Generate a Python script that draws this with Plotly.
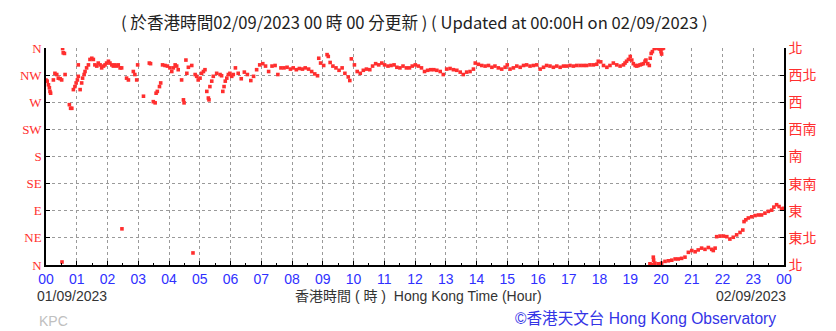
import plotly.graph_objects as go

# ---- data: wind direction (degrees) vs Hong Kong time (hour) ----
hours_early = [0.00, 0.04, 0.08, 0.11, 0.13, 0.15, 0.24, 0.29, 0.35, 0.40, 0.46, 0.51, 0.52, 0.54, 0.56, 0.60, 0.62,
               0.76, 0.80, 0.84, 0.89, 0.94, 0.98, 1.02, 1.05, 1.05, 1.11, 1.16, 1.19, 1.24, 1.27, 1.32, 1.38, 1.43,
               1.49, 1.54, 1.59, 1.65, 1.70, 1.76, 1.81, 1.87, 1.92, 1.97, 2.03, 2.08, 2.14, 2.19, 2.24, 2.30, 2.35,
               2.41, 2.46, 2.47, 2.62, 2.68, 2.84, 2.89, 2.95, 2.98, 3.17, 3.36, 3.40, 3.49, 3.55, 3.58, 3.62, 3.69,
               3.73, 3.79, 3.87, 3.95, 4.03, 4.09, 4.14, 4.20, 4.25, 4.30, 4.41, 4.47, 4.49, 4.55, 4.58, 4.63, 4.74,
               4.78, 4.85, 4.90, 4.95, 5.01, 5.06, 5.12, 5.17, 5.23, 5.28, 5.30, 5.33, 5.39, 5.44, 5.55, 5.66, 5.71,
               5.75, 5.79, 5.83, 5.88, 5.93, 5.98, 6.04, 6.09]
dirs_early = [307, 305, 299, 294, 288, 285, 307, 318, 316, 310, 309, 307, 5, 359, 352, 351, 316,
              266, 260, 260, 291, 296, 302, 307, 313, 332, 291, 302, 310, 316, 321, 327, 332, 341,
              343, 341, 332, 330, 335, 332, 327, 330, 332, 335, 338, 335, 332, 330, 332, 330, 332,
              327, 327, 60, 310, 307, 321, 316, 307, 332, 280, 335, 334, 271, 269, 285, 288, 296,
              302, 332, 331, 330, 327, 321, 327, 332, 330, 324, 307, 274, 269, 340, 318, 328, 331,
              20, 316, 313, 307, 310, 318, 321, 324, 288, 277, 274, 296, 305, 313, 318, 316, 314,
              288, 296, 305, 310, 316, 318, 313, 316]

hours_mid = [6.16, 6.25, 6.35, 6.45, 6.55, 6.66, 6.75, 6.85, 6.95, 7.05, 7.14, 7.24, 7.35, 7.45, 7.54, 7.64, 7.74,
             7.84, 7.95, 8.04, 8.14, 8.24, 8.34, 8.43, 8.54, 8.64, 8.74, 8.83, 8.87, 8.93, 9.03, 9.14, 9.18, 9.24,
             9.33, 9.43, 9.53, 9.63, 9.72, 9.83, 9.88, 9.93, 10.03, 10.12, 10.22, 10.32, 10.42, 10.53, 10.62,
             10.72, 10.82, 10.92, 11.01, 11.12, 11.22, 11.32, 11.41, 11.51, 11.61, 11.72, 11.82, 11.91, 12.01,
             12.11, 12.21, 12.31, 12.41]
dirs_mid = [327, 318, 309, 320, 316, 306, 313, 324, 332, 334, 330, 321, 330, 331, 316, 327, 327,
            328, 325, 327, 324, 326, 325, 327, 325, 321, 317, 314, 343, 335, 331, 349, 346, 336,
            330, 327, 323, 327, 318, 312, 306, 342, 332, 321, 318, 323, 325, 324, 330,
            334, 332, 335, 332, 330, 331, 332, 328, 327, 330, 327, 327, 330, 332,
            330, 327, 321, 323]

hours_late = [12.51, 12.61, 12.71, 12.82, 12.92, 13.03, 13.14, 13.25, 13.36, 13.47, 13.57, 13.68, 13.79, 13.90,
              13.96, 14.06, 14.17, 14.28, 14.39, 14.50, 14.60, 14.71, 14.82, 14.93, 15.00, 15.09, 15.20, 15.31,
              15.42, 15.53, 15.63, 15.74, 15.85, 15.96, 16.07, 16.18, 16.28, 16.39, 16.50, 16.61, 16.72, 16.83,
              16.93, 17.04, 17.15, 17.26, 17.37, 17.48, 17.58, 17.69, 17.80, 17.91, 17.96, 18.04, 18.13, 18.24,
              18.34, 18.45, 18.56, 18.67, 18.78, 18.83, 18.88, 18.94, 19.00, 19.05, 19.10, 19.16, 19.21, 19.26,
              19.32, 19.37, 19.43, 19.48, 19.51, 19.57, 19.62, 19.65, 19.68, 19.72, 19.78, 19.86, 19.91, 19.97,
              20.00, 20.02, 20.05, 20.08]
dirs_late = [324, 324, 323, 321, 316, 325, 326, 324, 323, 320, 316, 320, 321, 325,
             335, 333, 331, 330, 331, 328, 330, 327, 325, 328, 332, 325, 327, 330,
             328, 331, 332, 330, 331, 332, 325, 328, 331, 330, 328, 330, 328, 330,
             330, 331, 330, 331, 331, 331, 331, 332, 332, 333, 338, 337, 331, 328,
             331, 335, 332, 330, 332, 335, 338, 341, 346, 340, 334, 331, 330, 331,
             332, 333, 334, 338, 340, 334, 331, 343, 351, 354, 359, 360, 359, 358,
             354, 350, 359, 360]

hours_ramp = [19.64, 19.70, 19.75, 19.76, 19.80, 19.91, 20.02, 20.13, 20.24, 20.35, 20.46, 20.56, 20.67, 20.78,
              20.89, 21.00, 21.11, 21.21, 21.32, 21.43, 21.54, 21.65, 21.70, 21.76, 21.81, 21.92, 22.03, 22.14,
              22.24, 22.35, 22.46, 22.57, 22.66, 22.70, 22.76, 22.84, 22.95, 23.06, 23.17, 23.27, 23.38, 23.49,
              23.60, 23.67, 23.76, 23.84, 23.92, 23.98]
dirs_ramp = [2, 1, 13, 8, 3, 2, 3, 6, 7, 8, 10, 10, 11, 13,
             21, 24, 22, 25, 28, 26, 29, 26, 24, 28, 47, 48, 48, 47,
             43, 46, 50, 54, 58, 72, 75, 78, 80, 82, 83, 83, 86, 89,
             91, 96, 100, 97, 93, 94]

dir_ticks = [0, 45, 90, 135, 180, 225, 270, 315, 360]
dir_labels_en = ["N", "NE", "E", "SE", "S", "SW", "W", "NW", "N"]
dir_labels_zh = ["北", "東北", "東", "東南", "南", "西南", "西", "西北", "北"]
hour_ticks = list(range(0, 25))
hour_labels = ["00", "01", "02", "03", "04", "05", "06", "07", "08", "09", "10", "11", "12",
               "13", "14", "15", "16", "17", "18", "19", "20", "21", "22", "23", "00"]

RED = "#ff2e2e"
BLUE = "#2f2fff"

fig = go.Figure()
for hx, dy in [(hours_early, dirs_early), (hours_mid, dirs_mid), (hours_late, dirs_late), (hours_ramp, dirs_ramp)]:
    fig.add_trace(go.Scatter(x=hx, y=dy, mode="markers",
                             marker=dict(color=RED, size=3.6, symbol="square"),
                             showlegend=False, hoverinfo="skip"))
# carrier trace for right-hand axis
fig.add_trace(go.Scatter(x=[None], y=[None], yaxis="y2", showlegend=False, hoverinfo="skip"))

grid = dict(showgrid=True, gridcolor="#9a9a9a", griddash="dot", gridwidth=1, zeroline=False)

fig.update_layout(
    width=836, height=331,
    margin=dict(l=46, r=52, t=48, b=66),
    paper_bgcolor="white", plot_bgcolor="white",
    xaxis=dict(range=[0, 24], tickvals=hour_ticks, ticktext=hour_labels, **grid,
               showline=True, linecolor="black", linewidth=1.5, ticks="inside", ticklen=4,
               tickcolor="black", tickfont=dict(family="Liberation Sans", size=14, color=BLUE),
               minor=dict(dtick=0.5, ticks="inside", ticklen=2, tickcolor="black", showgrid=False)),
    yaxis=dict(range=[0, 360], tickvals=dir_ticks, ticktext=dir_labels_en, **grid,
               showline=True, linecolor="black", linewidth=1.5, ticks="inside", ticklen=4,
               tickcolor="black", tickfont=dict(family="Liberation Serif", size=13, color=RED)),
    yaxis2=dict(range=[0, 360], tickvals=dir_ticks, ticktext=dir_labels_zh, overlaying="y", side="right",
                anchor="x", showgrid=False, zeroline=False,
                showline=True, linecolor="black", linewidth=1.5, ticks="inside", ticklen=4,
                tickcolor="black", tickfont=dict(family="Noto Sans CJK TC", size=14, color=RED)),
)

def px(x):
    return (x - 46) / 738.0

def py(y):
    return (265 - y) / 217.0

ann = [
    dict(text="( 於香港時間02/09/2023 00 時 00 分更新 ) ( Updated at 00:00H on 02/09/2023 )",
         x=px(414), y=py(22), xanchor="center", yanchor="middle",
         font=dict(family="Noto Sans CJK TC", size=16.6, color="#222222")),
    dict(text="01/09/2023", x=px(35), y=py(296), xanchor="left", yanchor="middle",
         font=dict(family="Liberation Sans", size=14, color="#333333")),
    dict(text="香港時間 ( 時 )  Hong Kong Time (Hour)", x=px(418), y=py(296), xanchor="center", yanchor="middle",
         font=dict(family="Liberation Sans, Noto Sans CJK TC", size=14, color="#333333")),
    dict(text="02/09/2023", x=px(788), y=py(296), xanchor="right", yanchor="middle",
         font=dict(family="Liberation Sans", size=14, color="#333333")),
    dict(text="KPC", x=px(37), y=py(321), xanchor="left", yanchor="middle",
         font=dict(family="Liberation Sans", size=14, color="#c0c0c0")),
    dict(text="©香港天文台 Hong Kong Observatory", x=px(778), y=py(318), xanchor="right", yanchor="middle",
         font=dict(family="Liberation Sans, Noto Sans CJK TC", size=15.6, color="#3434e6")),
]
for a in ann:
    fig.add_annotation(xref="paper", yref="paper", showarrow=False, **a)

fig.write_html("out.html")
